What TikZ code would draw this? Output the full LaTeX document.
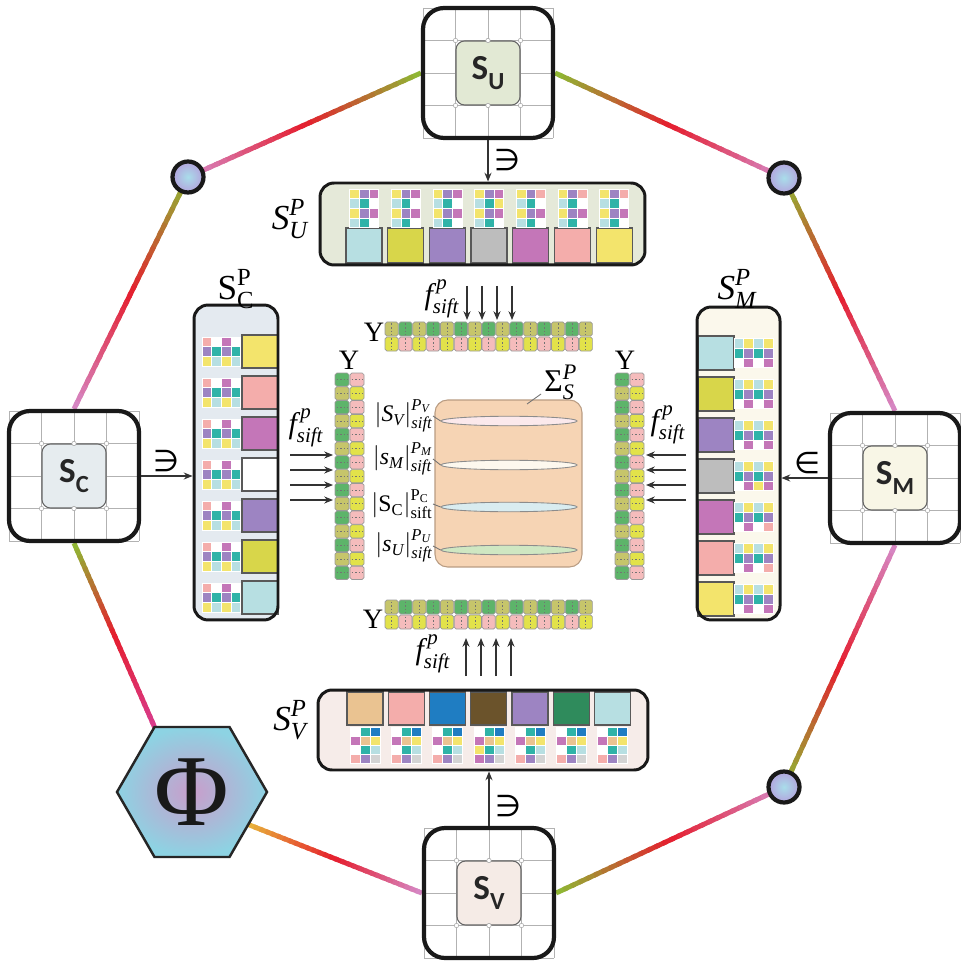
\documentclass[tikz,border=0pt]{standalone}
\usepackage{amsmath}
\usepackage{fontspec}
\setmainfont{Liberation Serif}
\newfontfamily\sansf{Carlito}
\newfontfamily\symf{DejaVu Sans}
\usetikzlibrary{calc,arrows.meta,shapes.geometric}
\pgfdeclarelayer{bg}
\pgfsetlayers{bg,main}

\definecolor{cyanL}{HTML}{B7DFE2}
\definecolor{ygreen}{HTML}{D8D64A}
\definecolor{purp}{HTML}{9D84C2}
\definecolor{grayc}{HTML}{BDBDBD}
\definecolor{mag}{HTML}{C476B8}
\definecolor{salm}{HTML}{F4ADAB}
\definecolor{yel}{HTML}{F3E46C}
\definecolor{tealc}{HTML}{2FB3A8}
\definecolor{tanc}{HTML}{EAC391}
\definecolor{blueD}{HTML}{1F7DC2}
\definecolor{brownD}{HTML}{6B532B}
\definecolor{greenD}{HTML}{2F8B5C}
\definecolor{lgray}{HTML}{D3D3D3}
\definecolor{oliveY}{HTML}{C6C56B}
\definecolor{greenY}{HTML}{5DB46A}
\definecolor{yelY}{HTML}{E2E24A}
\definecolor{pinkY}{HTML}{F5BCBC}
\definecolor{greenl}{HTML}{8CBC34}
\definecolor{redl}{HTML}{E51E2E}
\definecolor{pinkl}{HTML}{D58AC8}
\definecolor{magl}{HTML}{D83C8E}
\definecolor{orangel}{HTML}{E8B53A}
\definecolor{fU}{HTML}{E5E9D9}
\definecolor{fC}{HTML}{E4EAF0}
\definecolor{fM}{HTML}{FBF8EC}
\definecolor{fV}{HTML}{F6ECE9}
\definecolor{iU}{HTML}{E2E9D4}
\definecolor{iC}{HTML}{E6ECEF}
\definecolor{iM}{HTML}{F8F6E6}
\definecolor{iV}{HTML}{F5EBE6}
\definecolor{cIn}{HTML}{A9DDEA}
\definecolor{cOut}{HTML}{B3A3DD}
\definecolor{phIn}{HTML}{C99DCB}
\definecolor{phOut}{HTML}{8DD3E3}
\definecolor{tanB}{HTML}{F6D4B4}
\definecolor{tanD}{HTML}{B99C82}
\definecolor{dca}{HTML}{FBE9EC}
\definecolor{dcb}{HTML}{FDF8EE}
\definecolor{dcc}{HTML}{D9ECF0}
\definecolor{dcd}{HTML}{CFE7C2}

\def\pUa{{yel,purp,mag},{cyanL,tealc,white},{yel,purp,mag},{cyanL,tealc,white}}
\def\pUb{{yel,purp,mag},{cyanL,tealc,yel},{yel,purp,mag},{cyanL,tealc,white}}
\def\pUc{{yel,purp,salm},{cyanL,tealc,white},{yel,purp,mag},{cyanL,tealc,white}}
\def\pCa{{salm,white,mag,white},{purp,tealc,purp,tealc},{yel,cyanL,yel,cyanL}}
\def\pMa{{cyanL,yel,cyanL,yel},{tealc,purp,tealc,purp},{white,mag,white,mag}}
\def\pMb{{cyanL,yel,cyanL,yel},{tealc,purp,tealc,purp},{white,mag,yel,mag}}
\def\pMc{{cyanL,yel,cyanL,yel},{tealc,purp,tealc,purp},{white,mag,white,salm}}
\def\pVa{{white,tealc,blueD},{mag,tanc,yel},{white,tealc,cyanL},{salm,purp,lgray}}
\def\pVb{{white,tealc,blueD},{mag,tanc,yel},{yel,tealc,cyanL},{mag,purp,lgray}}

\newcommand\cellgrid[5]{%
  \edef\curpat{#5}%
  \foreach \row [count=\ii] in \curpat {%
    \foreach \cc [count=\jj] in \row {%
      \fill[fill=\cc, draw=white, line width=0.25pt] ({#1+(\jj-1)*#3},{#2+(\ii-1)*#4}) rectangle ++(#3,#4);
    }%
  }%
}

\newcommand\gradline[4]{%
  \foreach \i in {0,...,29}{%
    \pgfmathsetmacro\ta{\i/30}%
    \pgfmathsetmacro\tb{min(1,(\i+1.5)/30)}%
    \ifnum\i<15
      \pgfmathtruncatemacro\mx{100-(\i+0.5)*100/15}%
      \edef\gc{#3!\mx!redl}%
    \else
      \pgfmathtruncatemacro\mx{(\i-14.5)*100/15}%
      \edef\gc{#4!\mx!redl}%
    \fi
    \draw[gline, draw=\gc] ($(#1)!\ta!(#2)$) -- ($(#1)!\tb!(#2)$);
  }%
}

\newcommand\snodebox[5]{%
  \foreach \k in {-65,-32.5,0,32.5,65}{%
    \draw[gridl] ({#2+(\k)},{#3-65}) -- ({#2+(\k)},{#3+65});
    \draw[gridl] ({#2-65},{#3+(\k)}) -- ({#2+65},{#3+(\k)});
  }%
  \node[sbox] (#1) at (#2,#3) {};
  \node[sinner, fill=#4] (#1i) at (#2,#3) {\sansf\bfseries\fontsize{20}{20}\selectfont S\raisebox{-0.3em}{\fontsize{14}{14}\selectfont #5}};
  \foreach \a/\b in {-32.5/-32.5,0/-32.5,32.5/-32.5,-32.5/32.5,0/32.5,32.5/32.5}{%
    \filldraw[fill=white, draw=black!35, line width=0.3pt] ({#2+(\a)},{#3+(\b)}) circle[radius=2.2];
  }%
}

\newcommand\ybarH[2]{%
  \foreach \k in {0,...,14}{%
    \pgfmathsetmacro\xx{#1+\k*13.87}%
    \ifodd\k \def\ca{greenY}\def\cb{pinkY}\else\def\ca{oliveY}\def\cb{yelY}\fi
    \draw[ycell, fill=\ca] (\xx,#2) rectangle ++(13.2,14);
    \draw[ycell, fill=\cb] (\xx,#2+15) rectangle ++(13.2,14);
    \draw[ydash] (\xx+6.6,#2+1.5) -- ++(0,11);
    \draw[ydash] (\xx+6.6,#2+16.5) -- ++(0,11);
  }%
}

\newcommand\ybarV[2]{%
  \foreach \k in {0,...,14}{%
    \pgfmathsetmacro\yy{#2+\k*13.8}%
    \ifodd\k \def\ca{oliveY}\def\cb{yelY}\else\def\ca{greenY}\def\cb{pinkY}\fi
    \draw[ycell, fill=\ca] (#1,\yy) rectangle ++(14,13.2);
    \draw[ycell, fill=\cb] (#1+15,\yy) rectangle ++(14,13.2);
    \draw[ydash] (#1+1.5,\yy+6.6) -- ++(11,0);
    \draw[ydash] (#1+16.5,\yy+6.6) -- ++(11,0);
  }%
}

\begin{document}
\begin{tikzpicture}[x=0.02cm,y=-0.02cm,
  gline/.style={line width=2.8pt, line cap=butt},
  gridl/.style={draw=black!30, line width=0.5pt},
  sbox/.style={draw=black!90, line width=2.4pt, rounded corners=0.42cm, minimum size=2.6cm, inner sep=0pt},
  sinner/.style={draw=black!60, line width=0.6pt, rounded corners=0.17cm, minimum size=1.28cm, inner sep=0pt, text=black!85},
  panelbg/.style={rounded corners=0.28cm, inner sep=0pt},
  panelbd/.style={draw=black!90, line width=1.7pt, rounded corners=0.28cm, inner sep=0pt},
  bigsq/.style={draw=black!65, line width=0.6pt},
  ycell/.style={draw=black!40, line width=0.4pt, rounded corners=1pt},
  ydash/.style={draw=black!55, line width=0.35pt, dash pattern=on 1pt off 1pt},
  arr/.style={-{Stealth[length=5pt,width=4pt]}, line width=0.6pt, draw=black!80},
  lead/.style={draw=black!55, line width=0.5pt},
  circn/.style={circle, minimum size=0.62cm, inner sep=0pt, line width=2.4pt, draw=black!90, shade, shading=radial, inner color=cIn, outer color=cOut},
  disc/.style={ellipse, draw=black!45, line width=0.5pt, minimum width=2.72cm, minimum height=0.19cm, inner sep=0pt},
  plab/.style={font=\fontsize{20}{22}\selectfont, inner sep=0pt},
  flab/.style={font=\fontsize{17}{19}\selectfont, inner sep=0pt},
  ylab/.style={font=\fontsize{16}{18}\selectfont, inner sep=0pt},
  dlab/.style={font=\fontsize{13.5}{15}\selectfont, inner sep=0pt},
  elab/.style={font=\symf\fontsize{17}{19}\selectfont, inner sep=0pt}
]
\useasboundingbox (0,0) rectangle (960,962);
\begin{pgfonlayer}{bg}
\fill[white] (0,0) rectangle (960,962);
\end{pgfonlayer}

% ---------- S nodes ----------
\snodebox{sU}{488}{73}{iU}{U}
\snodebox{sC}{74}{476}{iC}{C}
\snodebox{sM}{895}{478}{iM}{M}
\snodebox{sV}{489}{893}{iV}{V}

% ---------- circles ----------
\node[circn] (c1) at (188,177) {};
\node[circn] (c2) at (784,178) {};
\node[circn] (c3) at (784,787) {};

% ---------- Phi hexagon ----------
\coordinate (phL) at (117,792);
\coordinate (phTL) at (154.5,727);
\coordinate (phTR) at (229.5,727);
\coordinate (phRr) at (267,792);
\coordinate (phBR) at (229.5,857);
\coordinate (phBL) at (154.5,857);
\coordinate (phR) at ($(phRr)!0.5!(phBR)$);
\shadedraw[inner color=phIn, outer color=phOut, draw=black!85, line width=1.4pt, line join=miter]
  (phL) -- (phTL) -- (phTR) -- (phRr) -- (phBR) -- (phBL) -- cycle;
\node[font=\fontsize{58}{58}\selectfont, text=black!90, inner sep=0pt] (phi) at (192,792) {Φ};

% ---------- octagon connectors ----------
\begin{pgfonlayer}{bg}
\gradline{sU.west}{c1}{greenl}{pinkl}
\gradline{c1}{sC.north}{greenl}{pinkl}
\gradline{sC.south}{phTL}{greenl}{magl}
\gradline{phR}{sV.west}{orangel}{pinkl}
\gradline{sV.east}{c3}{greenl}{pinkl}
\gradline{c3}{sM.south}{greenl}{pinkl}
\gradline{sM.north}{c2}{pinkl}{greenl}
\gradline{c2}{sU.east}{pinkl}{greenl}
\end{pgfonlayer}

% ---------- S_U^P panel ----------
\node[panelbg, fill=fU, minimum width=6.5cm, minimum height=1.64cm] (pUbg) at (482.5,224) {};
\foreach \k/\sq/\pat in {0/cyanL/\pUa,1/ygreen/\pUa,2/purp/\pUa,3/grayc/\pUb,4/mag/\pUc,5/salm/\pUc,6/yel/\pUc}{
  \pgfmathsetmacro\cx{364+41.67*\k}
  \draw[bigsq, fill=\sq] (\cx-18,228) rectangle (\cx+18,263);
  \cellgrid{\cx-14.5}{189}{9.7}{9.6}{\pat}
}
\node[panelbd, minimum width=6.5cm, minimum height=1.64cm] (pU) at (482.5,224) {};

% ---------- S_V^P panel ----------
\node[panelbg, fill=fV, minimum width=6.6cm, minimum height=1.6cm] (pVbg) at (483,730) {};
\foreach \k/\sq/\pat in {0/tanc/\pVa,1/salm/\pVa,2/blueD/\pVa,3/brownD/\pVb,4/purp/\pVa,5/greenD/\pVa,6/cyanL/\pVa}{
  \pgfmathsetmacro\cx{365+41.25*\k}
  \draw[bigsq, fill=\sq] (\cx-18,692) rectangle (\cx+18,725);
  \cellgrid{\cx-15}{727}{10}{9}{\pat}
}
\node[panelbd, minimum width=6.6cm, minimum height=1.6cm] (pV) at (483,730) {};

% ---------- S_C^P panel ----------
\node[panelbg, fill=fC, minimum width=1.68cm, minimum height=6.3cm] (pCbg) at (236,462.5) {};
\foreach \k/\sq in {0/yel,1/salm,2/mag,3/white,4/purp,5/ygreen,6/cyanL}{
  \pgfmathsetmacro\cy{351.5+41*\k}
  \draw[bigsq, fill=\sq] (242,\cy-16.5) rectangle (278,\cy+16.5);
  \cellgrid{202}{\cy-14.5}{9.6}{9.7}{\pCa}
}
\node[panelbd, minimum width=1.68cm, minimum height=6.3cm] (pC) at (236,462.5) {};

% ---------- S_M^P panel ----------
\node[panelbg, fill=fM, minimum width=1.66cm, minimum height=6.26cm] (pMbg) at (738.5,463.5) {};
\foreach \k/\sq/\pat in {0/cyanL/\pMa,1/ygreen/\pMa,2/purp/\pMa,3/grayc/\pMb,4/mag/\pMc,5/salm/\pMc,6/yel/\pMa}{
  \pgfmathsetmacro\cy{353+41*\k}
  \draw[bigsq, fill=\sq] (698,\cy-17) rectangle (734,\cy+17);
  \cellgrid{734}{\cy-14.5}{9.7}{9.7}{\pat}
}
\node[panelbd, minimum width=1.66cm, minimum height=6.26cm] (pM) at (738.5,463.5) {};

% ---------- panel labels ----------
\node[plab] (lU) at (290,219) {$\textit{S}^{\textit{P}}_{\textit{U}}$};
\node[plab] (lC) at (236,289) {$\text{S}^{\text{P}}_{\text{C}}$};
\node[plab] (lM) at (737,289) {$\textit{S}^{\textit{P}}_{\textit{M}}$};
\node[plab] (lV) at (290,720) {$\textit{S}^{\textit{P}}_{\textit{V}}$};

% ---------- membership arrows ----------
\draw[arr] (sU.south) -- (sU.south |- pU.north);
\node[elab] (eU) at (507,160) {∋};
\draw[arr] (sC.east) -- (sC.east -| pC.west);
\node[elab] (eC) at (167,461) {∋};
\draw[arr] (sM.west) -- (sM.west -| pM.east);
\node[elab] (eM) at (807,463) {∈};
\draw[arr] (sV.north) -- (sV.north |- pV.south);
\node[elab] (eV) at (508,806) {∋};

% ---------- Y bars ----------
\ybarH{385}{322}
\ybarH{385}{600}
\ybarV{335}{373}
\ybarV{615}{373}
\node[ylab] (yT) at (374,332) {Y};
\node[ylab] (yB) at (373,619) {Y};
\node[ylab] (yL) at (349,360) {Y};
\node[ylab] (yR) at (625,360) {Y};

% ---------- sift arrows ----------
\foreach \x [count=\n] in {467,482,497,512}{
  \coordinate (ta\n) at (\x,286); \coordinate (tb\n) at (\x,320);
  \draw[arr] (ta\n) -- (tb\n);
  \coordinate (ba\n) at (\x-1,676); \coordinate (bb\n) at (\x-1,638);
  \draw[arr] (ba\n) -- (bb\n);
}
\foreach \y [count=\n] in {455,470,485,500}{
  \coordinate (la\n) at (290,\y); \coordinate (lb\n) at (333,\y);
  \draw[arr] (la\n) -- (lb\n);
  \coordinate (ra\n) at (686,\y); \coordinate (rb\n) at (646,\y);
  \draw[arr] (ra\n) -- (rb\n);
}
\node[flab] (fT) at (442,299) {$\textit{f}^{\,\textit{p}}_{\textit{sift}}$};
\node[flab] (fB) at (433,654) {$\textit{f}^{\,\textit{p}}_{\textit{sift}}$};
\node[flab] (fL) at (306,428) {$\textit{f}^{\,\textit{p}}_{\textit{sift}}$};
\node[flab] (fR) at (668,425) {$\textit{f}^{\,\textit{p}}_{\textit{sift}}$};

% ---------- central block ----------
\node[draw=tanD, line width=0.6pt, fill=tanB, rounded corners=0.25cm, minimum width=2.94cm, minimum height=3.34cm, inner sep=0pt] (sig) at (508.5,483.5) {};
\node[disc, fill=dca] (d1) at (509,421) {};
\node[disc, fill=dcb] (d2) at (509,465) {};
\node[disc, fill=dcc] (d3) at (509,507) {};
\node[disc, fill=dcd] (d4) at (509,550) {};
\node[dlab, anchor=east] (l1) at (433,416) {$\lvert\textit{S}_{\textit{V}}\rvert^{\textit{P}_{\textit{V}}}_{\textit{sift}}$};
\node[dlab, anchor=east] (l2) at (433,459) {$\lvert\textit{s}_{\textit{M}}\rvert^{\textit{P}_{\textit{M}}}_{\textit{sift}}$};
\node[dlab, anchor=east] (l3) at (433,504) {$\lvert\text{S}_{\text{C}}\rvert^{\text{P}_{\text{C}}}_{\text{sift}}$};
\node[dlab, anchor=east] (l4) at (433,546) {$\lvert\textit{s}_{\textit{U}}\rvert^{\textit{P}_{\textit{U}}}_{\textit{sift}}$};
\draw[lead] (l1.east) -- (d1.west);
\draw[lead] (l2.east) -- (d2.west);
\draw[lead] (l3.east) -- (d3.west);
\draw[lead] (l4.east) -- (d4.west);
\node[font=\fontsize{18}{20}\selectfont, inner sep=0pt, anchor=south west] (sigl) at (544,400) {$\text{Σ}^{\textit{P}}_{\textit{S}}$};
\coordinate (sgA) at (527,404);
\coordinate (sgB) at (541,394);
\draw[lead] (sgA) -- (sgB);
\end{tikzpicture}
\end{document}
